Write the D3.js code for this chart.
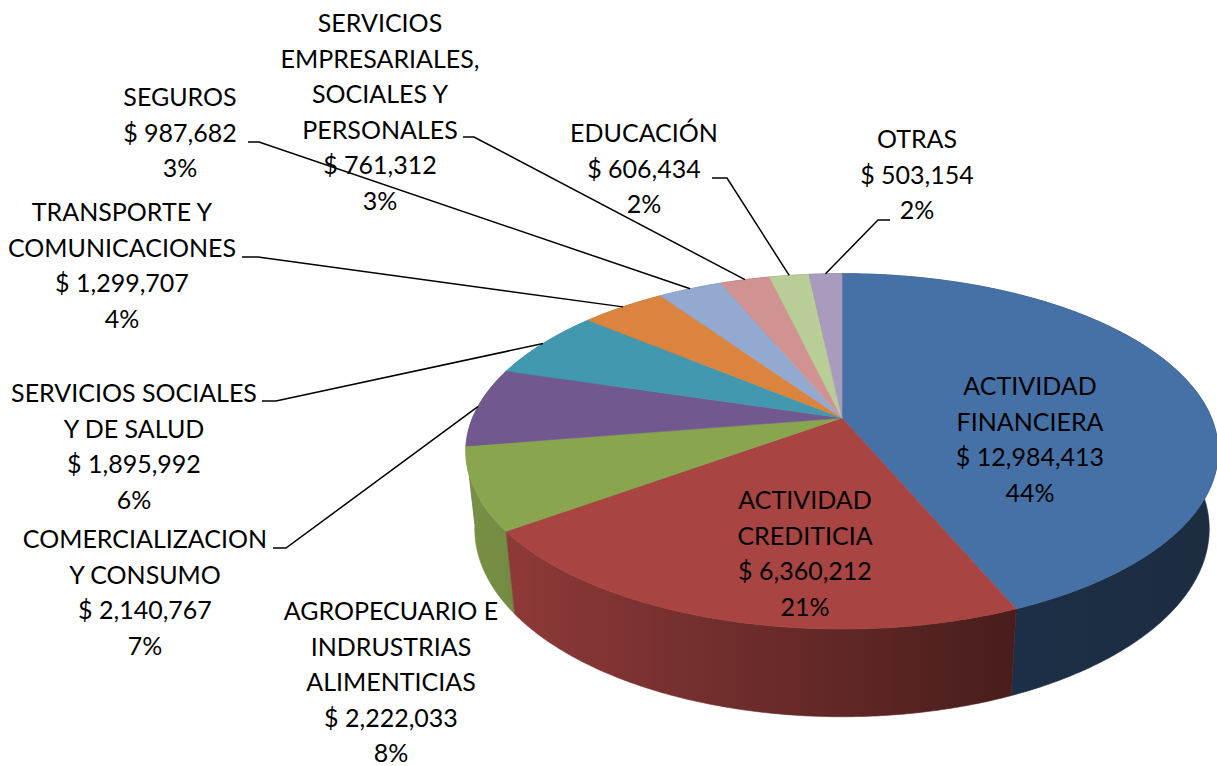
<!DOCTYPE html>
<html>
<head>
<meta charset="utf-8">
<script src="https://cdn.jsdelivr.net/npm/d3@7/dist/d3.min.js"></script>
<style>
  body { margin: 0; background: #fff; }
  text { font-family: Lato, "Open Sans", sans-serif; fill: #000; }
</style>
</head>
<body>
<svg id="chart" width="1217" height="766"></svg>
<script>
// data (clockwise from 12 o'clock)
const categories = [
  ["ACTIVIDAD", "FINANCIERA"],
  ["ACTIVIDAD", "CREDITICIA"],
  ["AGROPECUARIO E", "INDRUSTRIAS", "ALIMENTICIAS"],
  ["COMERCIALIZACION", "Y CONSUMO"],
  ["SERVICIOS SOCIALES", "Y DE SALUD"],
  ["TRANSPORTE Y", "COMUNICACIONES"],
  ["SEGUROS"],
  ["SERVICIOS", "EMPRESARIALES,", "SOCIALES Y", "PERSONALES"],
  ["EDUCACIÓN"],
  ["OTRAS"]
];
const values = [12984413, 6360212, 2222033, 2140767, 1895992, 1299707, 987682, 761312, 606434, 503154];
const percents = ["44%", "21%", "8%", "7%", "6%", "4%", "3%", "3%", "2%", "2%"];
const colors = ["#4671a6", "#a84442", "#89a54e", "#71588f", "#4198af", "#db843d", "#93a9cf", "#d19392", "#b9cd96", "#a99bbd"];

// label placement: x centre, first baseline, optional leader [fromX, elbowX, y]
const labelLayout = [
  { x: 1030, y: 395 },
  { x: 805, y: 509 },
  { x: 391, y: 620 },
  { x: 145, y: 548, leader: [273, 286, 548] },
  { x: 134, y: 402, leader: [262, 276, 401] },
  { x: 122, y: 221, leader: [242, 258, 257] },
  { x: 180, y: 106, leader: [248, 259, 142] },
  { x: 380, y: 32, leader: [463, 474, 137] },
  { x: 644, y: 142, leader: [712, 727, 178] },
  { x: 917, y: 148, leader: [890, 878, 220] }
];

const width = 1217, height = 766;
const lineH = 35.5;

// simple perspective view of a tilted disc
const cx = 842, cy = 418;
const focal = 1744, dist = 4.72, depth = 0.239;
const sa = 0.464, ca = 0.886;

function proj(theta, h) {
  const X = Math.sin(theta), Z = Math.cos(theta);
  const yc = h * ca + Z * sa;
  const dc = Z * ca - h * sa + dist;
  return [cx + focal * X / dc, cy - focal * yc / dc];
}

function rim(a0, a1, h) {
  const n = Math.max(4, Math.ceil((a1 - a0) / (Math.PI / 360)));
  return d3.range(n + 1).map(i => proj(a0 + (a1 - a0) * i / n, h));
}

const svg = d3.select("#chart");
svg.append("rect").attr("width", width).attr("height", height).attr("fill", "#fff");

const pie = d3.pie().sort(null).startAngle(0).endAngle(2 * Math.PI);
const arcs = pie(values).map((d, i) => ({ ...d, i }));

const line = d3.line();

// side shading across the front of the disc
const defs = svg.append("defs");
function shade(c, k) {
  const r = d3.rgb(c);
  return d3.rgb(r.r * k, r.g * k, r.b * k).formatHex();
}
arcs.forEach(d => {
  const g = defs.append("linearGradient")
    .attr("id", "side" + d.i)
    .attr("gradientUnits", "userSpaceOnUse")
    .attr("x1", 463).attr("x2", 1217).attr("y1", 0).attr("y2", 0);
  [[0, 0.88], [0.74, 0.42], [1, 0.4]].forEach(([o, k]) => {
    g.append("stop").attr("offset", o).attr("stop-color", shade(colors[d.i], k));
  });
});

// outer walls, far ones first
const walls = arcs.map(d => {
  const minZ = d3.min(d3.range(21), j => Math.cos(d.startAngle + (d.endAngle - d.startAngle) * j / 20));
  return { ...d, minZ };
}).sort((a, b) => b.minZ - a.minZ);

svg.append("g").selectAll("path")
  .data(walls)
  .join("path")
  .attr("d", d => line(rim(d.startAngle, d.endAngle, 0).concat(rim(d.startAngle, d.endAngle, -depth).reverse())) + "Z")
  .attr("fill", d => `url(#side${d.i})`)
  .attr("stroke", d => `url(#side${d.i})`)
  .attr("stroke-width", 0.6);

// top faces
svg.append("g").selectAll("path")
  .data(arcs)
  .join("path")
  .attr("d", d => line([[cx, cy]].concat(rim(d.startAngle, d.endAngle, 0))) + "Z")
  .attr("fill", d => colors[d.i])
  .attr("stroke", d => colors[d.i])
  .attr("stroke-width", 0.6);

// leader lines
svg.append("g").selectAll("path")
  .data(arcs.filter(d => labelLayout[d.i].leader))
  .join("path")
  .attr("d", d => {
    const [x0, x1, y] = labelLayout[d.i].leader;
    return line([[x0, y], [x1, y], proj((d.startAngle + d.endAngle) / 2, 0)]);
  })
  .attr("fill", "none")
  .attr("stroke", "#000")
  .attr("stroke-width", 1.5);

// labels
const money = v => "$ " + d3.format(",")(v);
const labels = svg.append("g").selectAll("text")
  .data(arcs)
  .join("text")
  .attr("text-anchor", "middle")
  .style("font-size", "25px");

labels.selectAll("tspan")
  .data(d => categories[d.i].concat([money(values[d.i]), percents[d.i]]).map((t, k) => ({ t, k, p: labelLayout[d.i] })))
  .join("tspan")
  .attr("x", d => d.p.x)
  .attr("y", d => d.p.y + d.k * lineH)
  .text(d => d.t);
</script>
</body>
</html>
